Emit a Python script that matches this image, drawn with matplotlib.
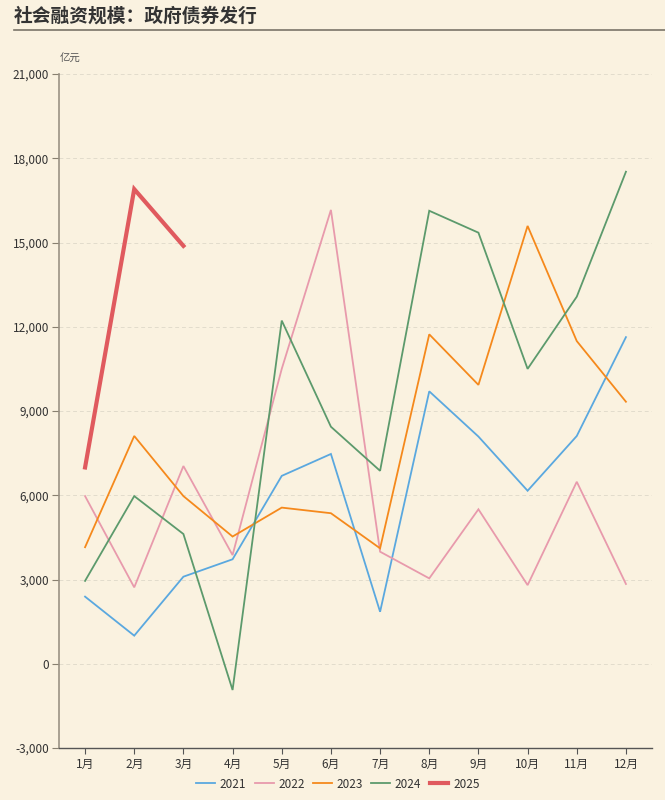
import matplotlib
matplotlib.use('Agg')
import matplotlib.pyplot as plt
from matplotlib.ticker import FuncFormatter

plt.rcParams['font.family'] = ['Noto Sans CJK SC', 'DejaVu Sans']

months = ['1月', '2月', '3月', '4月', '5月', '6月', '7月', '8月', '9月', '10月', '11月', '12月']

# 政府债券发行, 亿元
v2021 = [2390, 1000, 3100, 3720, 6690, 7470, 1850, 9700, 8090, 6160, 8110, 11630]
v2022 = [5970, 2720, 7040, 3870, 10500, 16160, 3990, 3040, 5500, 2800, 6480, 2840]
v2023 = [4150, 8110, 5970, 4530, 5560, 5360, 4110, 11730, 9930, 15590, 11490, 9330]
v2024 = [2950, 5970, 4620, -935, 12220, 8440, 6870, 16130, 15350, 10500, 13070, 17520]
v2025 = [6990, 16900, 14880]

series = [
    ('2021', v2021, '#5aa8df', 1.3),
    ('2022', v2022, '#e89aac', 1.3),
    ('2023', v2023, '#f5891c', 1.3),
    ('2024', v2024, '#5c9a6c', 1.3),
    ('2025', v2025, '#e05a5e', 3.0),
]

bg = '#faf2e0'
fig = plt.figure(figsize=(6.65, 8), dpi=100, facecolor=bg)
ax = fig.add_axes([59 / 665, 1 - 748 / 800, (652 - 59) / 665, (748 - 74) / 800])
ax.set_facecolor(bg)

for name, vals, col, lw in series:
    ax.plot(range(len(vals)), vals, color=col, lw=lw, label=name, solid_joinstyle='miter')

ax.set_xlim(-0.53, 11.53)
ax.set_ylim(-3000, 21000)
ax.set_yticks(range(-3000, 21001, 3000))
ax.yaxis.set_major_formatter(FuncFormatter(lambda v, p: f'{int(v):,}'))
ax.set_xticks(range(12))
ax.set_xticklabels(months)
ax.tick_params(axis='both', labelsize=8.5, colors='#333333', length=5, width=0.8, pad=2)
ax.tick_params(axis='y', colors='#888070', labelcolor='#333333')
ax.tick_params(axis='x', length=4, color='#555555', pad=3)

ax.grid(axis='y', color='#e2dccc', ls=(0, (4, 3)), lw=0.7)
ax.set_axisbelow(True)
for s in ['top', 'right']:
    ax.spines[s].set_visible(False)
ax.spines['left'].set_color('#9a9284')
ax.spines['left'].set_linewidth(1.2)
ax.spines['bottom'].set_color('#555555')
ax.spines['bottom'].set_linewidth(1.0)

fig.text(60 / 665, 1 - 59 / 800, '亿元', fontsize=7.5, color='#555555', ha='left', va='center')

fig.text(14 / 665, 1 - 16 / 800, '社会融资规模：政府债券发行', fontsize=13.5, fontweight='bold',
         color='#333333', ha='left', va='center')
fig.add_artist(plt.Line2D([14 / 665, 1], [1 - 30 / 800, 1 - 30 / 800], color='#7a7468', lw=1.2))

leg = fig.legend(loc='center', bbox_to_anchor=(338 / 665, 1 - 784 / 800), ncol=5, frameon=False,
                 fontsize=8.5, handlelength=1.6, columnspacing=0.7, handletextpad=0.4)
for t in leg.get_texts():
    t.set_color('#333333')

fig.savefig('out.png', dpi=100, facecolor=bg)
